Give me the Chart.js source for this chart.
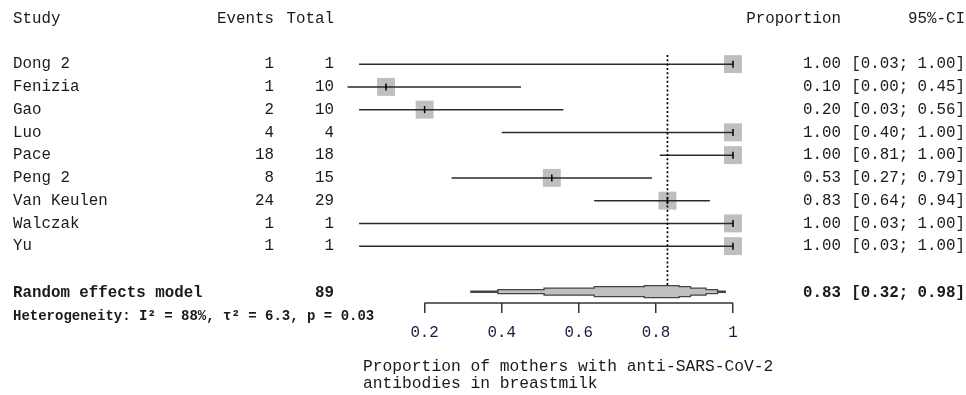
<!DOCTYPE html>
<html><head><meta charset="utf-8">
<style>html,body{margin:0;padding:0;background:#fff}#wrap{width:966px;height:395px}</style>
<script src="https://cdn.jsdelivr.net/npm/chart.js@4.4.0/dist/chart.umd.min.js"></script>
</head><body><div id="wrap"><canvas id="c" width="966" height="395"></canvas></div>
<script>
const studies = ["Dong 2","Fenizia","Gao","Luo","Pace","Peng 2","Van Keulen","Walczak","Yu"];
const events  = [1, 1, 2, 4, 18, 8, 24, 1, 1];
const totals  = [1, 10, 10, 4, 18, 15, 29, 1, 1];
const props   = [1.00, 0.10, 0.20, 1.00, 1.00, 0.53, 0.83, 1.00, 1.00];
const ciLow   = [0.03, 0.00, 0.03, 0.40, 0.81, 0.27, 0.64, 0.03, 0.03];
const ciHigh  = [1.00, 0.45, 0.56, 1.00, 1.00, 0.79, 0.94, 1.00, 1.00];
const pooledLabel = "Random effects model";
const pooledTotal = 89;
const pooled = 0.83, pooledLow = 0.32, pooledHigh = 0.98;
const bandLow  = [0.32, 0.39, 0.51, 0.64, 0.77];
const bandHigh = [0.98, 0.96, 0.93, 0.89, 0.86];
const heteroText = "Heterogeneity: I\u00B2 = 88%, \u03C4\u00B2 = 6.3, p = 0.03";
const tickValues = [0.2, 0.4, 0.6, 0.8, 1];
const tickLabels = ["0.2", "0.4", "0.6", "0.8", "1"];
const axisTitle = ["Proportion of mothers with anti-SARS-CoV-2", "antibodies in breastmilk"];
const headers = {study:"Study", events:"Events", total:"Total", prop:"Proportion", ci:"95%-CI"};

const FONT = "'Liberation Mono', 'DejaVu Sans Mono', monospace";
const FS = 15.8;
const bandHalf = [0.6, 2, 3.5, 5, 6];
const summaryRow = studies.length + 1;

const ciData = [];
studies.forEach((s, i) => {
  ciData.push({x: ciLow[i], y: i}, {x: ciHigh[i], y: i}, {x: ciHigh[i], y: null});
});
const ptData = props.map((p, i) => ({x: p, y: i}));

const fmt = v => v.toFixed(2);

const textPlugin = {
  id: 'forestText',
  afterDatasetsDraw(chart) {
    const ctx = chart.ctx, xs = chart.scales.x, ys = chart.scales.y, area = chart.chartArea;
    ctx.save();
    ctx.beginPath();
    ctx.moveTo(xs.getPixelForValue(tickValues[0]), area.bottom);
    ctx.lineTo(xs.getPixelForValue(tickValues[tickValues.length - 1]), area.bottom);
    ctx.strokeStyle = '#333';
    ctx.lineWidth = 1.5;
    ctx.stroke();
    const y = ys.getPixelForValue(summaryRow);
    const L = bandLow.map(v => xs.getPixelForValue(v));
    const U = bandHigh.map(v => xs.getPixelForValue(v));
    const h = bandHalf, n = L.length;
    ctx.beginPath();
    ctx.moveTo(L[0], y - h[0]);
    for (let i = 1; i < n; i++) { ctx.lineTo(L[i], y - h[i-1]); ctx.lineTo(L[i], y - h[i]); }
    ctx.lineTo(U[n-1], y - h[n-1]);
    for (let i = n - 2; i >= 0; i--) { ctx.lineTo(U[i+1], y - h[i]); ctx.lineTo(U[i], y - h[i]); }
    ctx.lineTo(U[0], y + h[0]);
    for (let i = 1; i < n; i++) { ctx.lineTo(U[i], y + h[i-1]); ctx.lineTo(U[i], y + h[i]); }
    ctx.lineTo(L[n-1], y + h[n-1]);
    for (let i = n - 2; i >= 0; i--) { ctx.lineTo(L[i+1], y + h[i]); ctx.lineTo(L[i], y + h[i]); }
    ctx.closePath();
    ctx.fillStyle = '#c0c0c0';
    ctx.fill();
    ctx.strokeStyle = '#444';
    ctx.lineWidth = 1.3;
    ctx.stroke();
    ctx.restore();
  },
  afterDraw(chart) {
    const ctx = chart.ctx, ys = chart.scales.y, area = chart.chartArea;
    ctx.save();
    ctx.fillStyle = '#1a1a1a';
    ctx.textBaseline = 'middle';
    const put = (t, x, row, align, bold, size) => {
      ctx.font = (bold ? 'bold ' : '') + (size || FS) + 'px ' + FONT;
      ctx.textAlign = align;
      ctx.fillText(t, x, typeof row === 'number' ? ys.getPixelForValue(row) : row.px);
    };
    const hr = -1.98;
    put(headers.study, 13, hr, 'left');
    put(headers.events, 274, hr, 'right');
    put(headers.total, 334, hr, 'right');
    put(headers.prop, 841, hr, 'right');
    put(headers.ci, 965, hr, 'right');
    studies.forEach((s, i) => {
      put(s, 13, i, 'left');
      put(String(events[i]), 274, i, 'right');
      put(String(totals[i]), 334, i, 'right');
      put(fmt(props[i]), 841, i, 'right');
      put('[' + fmt(ciLow[i]) + '; ' + fmt(ciHigh[i]) + ']', 965, i, 'right');
    });
    put(pooledLabel, 13, summaryRow + 0.05, 'left', true);
    put(String(pooledTotal), 334, summaryRow + 0.05, 'right', true);
    put(fmt(pooled), 841, summaryRow + 0.05, 'right', true);
    put('[' + fmt(pooledLow) + '; ' + fmt(pooledHigh) + ']', 965, summaryRow + 0.05, 'right', true);
    put(heteroText, 13, summaryRow + 1.08, 'left', true, 14);
    put(axisTitle[0], 363, {px: area.bottom + 64}, 'left', false, 16.3);
    put(axisTitle[1], 363, {px: area.bottom + 81}, 'left', false, 16.3);
    ctx.restore();
  }
};

new Chart(document.getElementById('c'), {
  type: 'scatter',
  data: {
    datasets: [
      { data: ptData, pointStyle: 'rect', pointRadius: 12.7, pointHoverRadius: 12.7,
        backgroundColor: '#bfbfbf', borderWidth: 0, clip: false, order: 4 },
      { data: ciData, showLine: true, spanGaps: false, borderColor: '#2b2b2b', borderWidth: 1.5,
        pointRadius: 0, clip: false, order: 3 },
      { data: ptData, pointStyle: 'line', rotation: 90, pointRadius: 3.5, pointHoverRadius: 3.5,
        borderColor: '#000', pointBorderWidth: 1.5, borderWidth: 1.5, clip: false, order: 2 },
      { data: [{x: pooled, y: -0.4}, {x: pooled, y: summaryRow}], showLine: true,
        borderColor: '#000', borderWidth: 1.7, borderDash: [2, 2.3], pointRadius: 0, clip: false, order: 1 }
    ]
  },
  options: {
    responsive: false, animation: false, devicePixelRatio: 1,
    layout: { padding: { left: 347.5, right: 233, top: 52.75, bottom: 0 } },
    plugins: { legend: { display: false }, tooltip: { enabled: false }, title: { display: false } },
    events: [],
    scales: {
      x: {
        type: 'linear', min: 0, max: 1, position: 'bottom',
        afterBuildTicks: s => { s.ticks = tickValues.map(v => ({ value: v })); },
        afterFit: s => { s.height = 92; },
        ticks: { callback: (v, i) => tickLabels[i], autoSkip: false, maxRotation: 0,
          font: { family: FONT, size: FS }, color: '#1a1a40', padding: 10 },
        grid: { display: true, drawOnChartArea: false, drawTicks: true, tickLength: 10,
          color: '#333', lineWidth: 1.5 },
        border: { display: false }
      },
      y: { type: 'linear', reverse: true, min: -0.5, max: 10.5, display: false }
    }
  },
  plugins: [textPlugin]
});
</script>
</body></html>
